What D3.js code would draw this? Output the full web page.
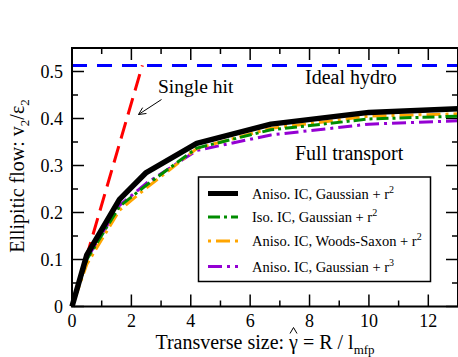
<!DOCTYPE html>
<html>
<head>
<meta charset="utf-8">
<script src="https://cdn.jsdelivr.net/npm/d3@7"></script>
<style>
  html, body { margin: 0; padding: 0; background: #fff; }
  svg { display: block; font-family: "Liberation Serif", "Times New Roman", serif; }
</style>
</head>
<body>
<svg id="chart" width="458" height="357"></svg>
<script>
// Transverse size values (gamma-hat = R / l_mfp) at which v2/eps2 was computed
const gammaVals = [0, 0.5, 1.6, 2.5, 4.2, 6.7, 10, 13];

// v2/eps2 for each transport setup
const anisoGaussR2 = [0, 0.110, 0.228, 0.285, 0.347, 0.388, 0.413, 0.421];
const isoGaussR2   = [0, 0.100, 0.213, 0.258, 0.337, 0.376, 0.399, 0.405];
const anisoWSR2    = [0, 0.090, 0.205, 0.252, 0.336, 0.379, 0.405, 0.410];
const anisoGaussR3 = [0, 0.102, 0.215, 0.262, 0.332, 0.365, 0.388, 0.395];

// Limits: ideal hydro plateau and the single-hit (dilute) line
const idealHydro = 0.513;
const singleHitX = [0, 2.37];
const singleHitY = [0, 0.513];

const xTicks = [0, 2, 4, 6, 8, 10, 12];
const yTicks = [0, 0.1, 0.2, 0.3, 0.4, 0.5];

const seriesNames = ["Aniso. IC, Gaussian + r", "Iso. IC, Gaussian + r",
                     "Aniso. IC, Woods-Saxon + r", "Aniso. IC, Gaussian + r"];
const seriesPowers = ["2", "2", "2", "3"];

const svg = d3.select("#chart");
const x = d3.scaleLinear().domain([0, 13]).range([72, 458]);
const y = d3.scaleLinear().domain([0, 0.55]).range([306.5, 48]);

const series = [
  { vals: anisoGaussR2, color: "#000000", width: 5.5, dash: null },
  { vals: isoGaussR2,   color: "#008c00", width: 3,   dash: "12,4,3,4" },
  { vals: anisoWSR2,    color: "#ffa500", width: 3,   dash: "3,5,14,5" },
  { vals: anisoGaussR3, color: "#9400d3", width: 3,   dash: "14,5,3,5" }
];

// Ticks: inward, on all four sides
const tickMajor = 12, tickMinor = 6;
const axisG = svg.append("g").attr("stroke", "#000").attr("stroke-width", 1.5);
d3.range(0, 14, 1).forEach(v => {
  const len = v % 2 === 0 ? tickMajor : tickMinor;
  axisG.append("line").attr("x1", x(v)).attr("x2", x(v)).attr("y1", y(0)).attr("y2", y(0) - len);
  axisG.append("line").attr("x1", x(v)).attr("x2", x(v)).attr("y1", y(0.55)).attr("y2", y(0.55) + len);
});
d3.range(0, 12).map(i => i * 0.05).forEach((v, i) => {
  const len = i % 2 === 0 ? tickMajor : tickMinor;
  axisG.append("line").attr("x1", x(0)).attr("x2", x(0) + len).attr("y1", y(v)).attr("y2", y(v));
  axisG.append("line").attr("x1", x(13)).attr("x2", x(13) - len).attr("y1", y(v)).attr("y2", y(v));
});

// Tick labels
svg.append("g").selectAll("text").data(xTicks).join("text")
  .attr("x", d => x(d)).attr("y", 327).attr("text-anchor", "middle")
  .attr("font-size", 18).attr("fill", "#000").text(d => d);
svg.append("g").selectAll("text").data(yTicks).join("text")
  .attr("x", 63).attr("y", d => y(d) + 6).attr("text-anchor", "end")
  .attr("font-size", 18).attr("fill", "#000").text(d => d === 0 ? "0" : d.toFixed(1));

const line = d3.line().x(d => x(d[0])).y(d => y(d[1]));

// Ideal hydro plateau
svg.append("path").datum([[0, idealHydro], [13, idealHydro]]).attr("d", line)
  .attr("fill", "none").attr("stroke", "#0000ff").attr("stroke-width", 3)
  .attr("stroke-dasharray", "15,10");

// Single-hit line
svg.append("path").datum(d3.zip(singleHitX, singleHitY)).attr("d", line)
  .attr("fill", "none").attr("stroke", "#ff0000").attr("stroke-width", 3)
  .attr("stroke-dasharray", "17,8");

// Full transport curves (drawn back to front)
series.slice().reverse().forEach(s => {
  svg.append("path").datum(d3.zip(gammaVals, s.vals)).attr("d", line)
    .attr("fill", "none").attr("stroke", s.color).attr("stroke-width", s.width)
    .attr("stroke-dasharray", s.dash).attr("stroke-linejoin", "round");
});

// Frame
svg.append("rect").attr("x", x(0)).attr("y", y(0.55))
  .attr("width", x(13) - x(0)).attr("height", y(0) - y(0.55))
  .attr("fill", "none").attr("stroke", "#000").attr("stroke-width", 2);

// Annotations
svg.append("text").attr("x", 158).attr("y", 93).attr("font-size", 19.5).text("Single hit");
svg.append("text").attr("x", 305).attr("y", 84).attr("font-size", 20).text("Ideal hydro");
svg.append("text").attr("x", 295).attr("y", 160).attr("font-size", 20).text("Full transport");

// Arrow towards the single-hit line
const ax0 = 161.5, ay0 = 99.5, ax1 = 138.5, ay1 = 114.5;
const ang = Math.atan2(ay0 - ay1, ax0 - ax1);
svg.append("line").attr("x1", ax0).attr("y1", ay0).attr("x2", ax1).attr("y2", ay1)
  .attr("stroke", "#000").attr("stroke-width", 1);
[0.45, -0.45].forEach(da => {
  svg.append("line").attr("x1", ax1).attr("y1", ay1)
    .attr("x2", ax1 + 8 * Math.cos(ang + da)).attr("y2", ay1 + 8 * Math.sin(ang + da))
    .attr("stroke", "#000").attr("stroke-width", 1);
});

// Legend
const leg = svg.append("g");
leg.append("rect").attr("x", 198.5).attr("y", 177).attr("width", 232).attr("height", 104.5)
  .attr("fill", "#fff").attr("stroke", "#000").attr("stroke-width", 1.5);
const rowY = [193.5, 217, 241, 266.5];
series.forEach((s, i) => {
  leg.append("line").attr("x1", 208).attr("x2", 238).attr("y1", rowY[i]).attr("y2", rowY[i])
    .attr("stroke", s.color).attr("stroke-width", s.width === 3 ? 3 : 5)
    .attr("stroke-dasharray", s.dash);
  const t = leg.append("text").attr("x", 252).attr("y", rowY[i] + 5).attr("font-size", 14.5);
  t.append("tspan").text(seriesNames[i]);
  t.append("tspan").attr("dy", -6).attr("font-size", 10).text(seriesPowers[i]);
});

// Axis titles
const yTitle = svg.append("text").attr("transform", "translate(24,176) rotate(-90)")
  .attr("text-anchor", "middle").attr("font-size", 20);
yTitle.append("tspan").text("Ellipitic flow: v");
yTitle.append("tspan").attr("dy", 5).attr("font-size", 13).text("2");
yTitle.append("tspan").attr("dy", -5).text("/ε");
yTitle.append("tspan").attr("dy", 5).attr("font-size", 13).text("2");

const xTitle = svg.append("text").attr("x", 265).attr("y", 349)
  .attr("text-anchor", "middle").attr("font-size", 20);
xTitle.append("tspan").text("Transverse size: ");
xTitle.append("tspan").text("γ");
xTitle.append("tspan").text(" = R / l");
xTitle.append("tspan").attr("dy", 5).attr("font-size", 13).text("mfp");

// Hat accent over gamma, drawn as a small caret
const ext = xTitle.node().getExtentOfChar("Transverse size: ".length);
const hx = ext.x + ext.width / 2;
svg.append("path")
  .attr("d", `M${hx - 3.5},333.5 L${hx},327.5 L${hx + 3.5},333.5`)
  .attr("fill", "none").attr("stroke", "#000").attr("stroke-width", 1);
</script>
</body>
</html>
